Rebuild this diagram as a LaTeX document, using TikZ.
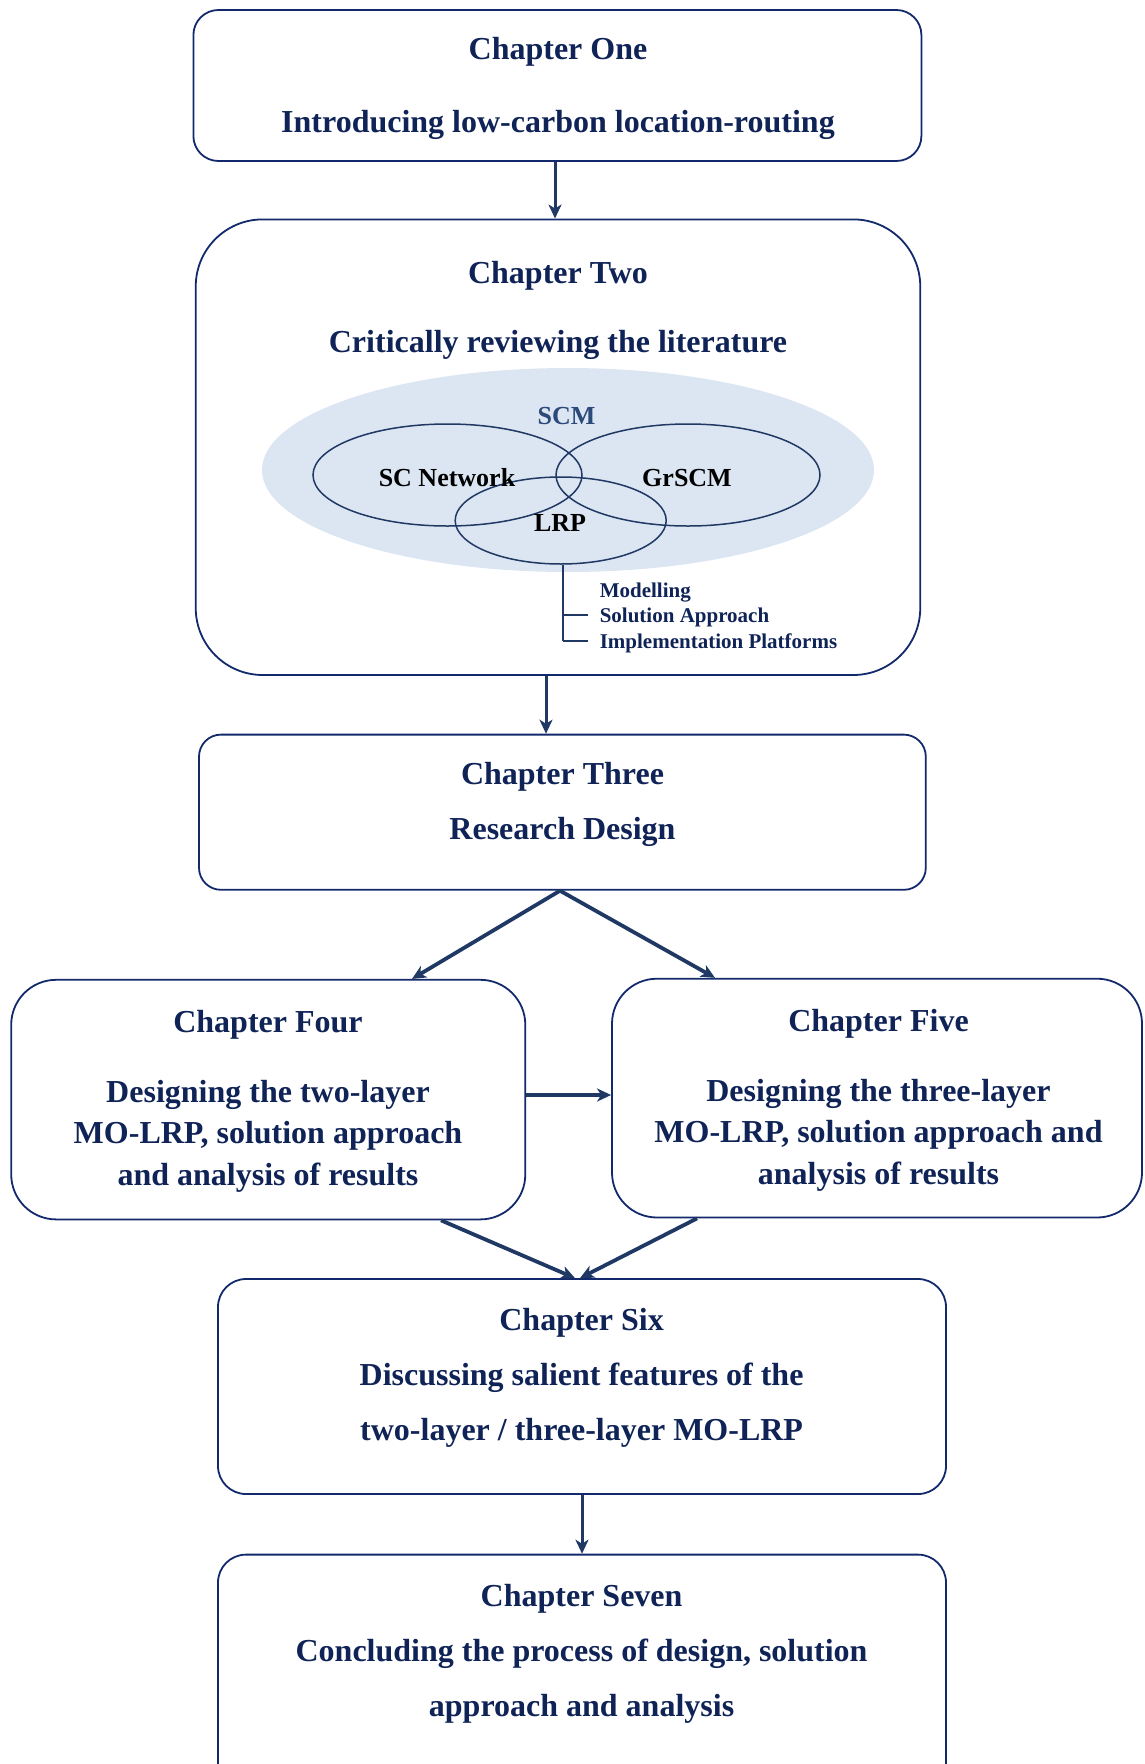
\documentclass[tikz,border=0pt]{standalone}
\usepackage{fontspec}
\setmainfont{Liberation Serif}
\usetikzlibrary{arrows.meta,shapes.geometric}
\definecolor{txt}{HTML}{0F2357}
\definecolor{bord}{HTML}{12296B}
\definecolor{arrc}{HTML}{1F3864}
\definecolor{ellfill}{HTML}{DCE6F2}
\definecolor{scm}{HTML}{2B4A7A}
\begin{document}
\begin{tikzpicture}[x=1pt,y=-1pt,
  box/.style={draw=bord,line width=1.8pt,inner sep=0pt},
  ttl/.style={text=txt,font=\fontsize{32}{40}\selectfont\bfseries,inner sep=0pt,anchor=base},
  small/.style={text=txt,font=\fontsize{21}{25}\selectfont\bfseries,inner sep=0pt,anchor=base west},
  venlab/.style={text=black,font=\fontsize{26}{30}\selectfont\bfseries,inner sep=0pt,anchor=base},
  ven/.style={ellipse,draw=arrc,line width=1.5pt,inner sep=0pt},
  arr/.style={draw=arrc,line width=3pt,-{Stealth[length=14pt,width=13pt,inset=4pt]}},
  brk/.style={draw=arrc,line width=2.5pt}]
\useasboundingbox (0,0) rectangle (1144,1764);
\clip (0,0) rectangle (1144,1764);

% boxes
\node[box,rounded corners=25pt,minimum width=728pt,minimum height=151pt] (b1) at (557.4,85.5) {};
\node[box,rounded corners=67pt,minimum width=724.5pt,minimum height=455.6pt] (b2) at (558,447.2) {};
\node[box,rounded corners=22pt,minimum width=726.8pt,minimum height=155.2pt] (b3) at (562.4,812.2) {};
\node[box,rounded corners=45pt,minimum width=514.1pt,minimum height=239.6pt] (b4) at (268.25,1099.6) {};
\node[box,rounded corners=45pt,minimum width=530pt,minimum height=238.8pt] (b5) at (877,1098.1) {};
\node[box,rounded corners=28pt,minimum width=728pt,minimum height=215pt] (b6) at (582,1386.5) {};
\node[box,rounded corners=28pt,minimum width=728pt,minimum height=245.4pt] (b7) at (582,1677.3) {};

% texts
\node[ttl] (t1a) at (558,59) {Chapter One};
\node[ttl] (t1b) at (558,132) {Introducing low-carbon location-routing};
\node[ttl] (t2a) at (558,283) {Chapter Two};
\node[ttl] (t2b) at (558,352) {Critically reviewing the literature};
\node[ttl] (t3a) at (562.5,784) {Chapter Three};
\node[ttl] (t3b) at (562.5,839) {Research Design};
\node[ttl] (t4a) at (268,1032) {Chapter Four};
\node[ttl] (t4b) at (268,1102) {Designing the two-layer};
\node[ttl] (t4c) at (268,1143.6) {MO-LRP, solution approach};
\node[ttl] (t4d) at (268,1185.2) {and analysis of results};
\node[ttl] (t5a) at (878.5,1031) {Chapter Five};
\node[ttl] (t5b) at (878.5,1101) {Designing the three-layer};
\node[ttl] (t5c) at (878.5,1142.6) {MO-LRP, solution approach and};
\node[ttl] (t5d) at (878.5,1184.3) {analysis of results};
\node[ttl] (t6a) at (581.6,1330.5) {Chapter Six};
\node[ttl] (t6b) at (581.6,1385.6) {Discussing salient features of the};
\node[ttl] (t6c) at (581.6,1440.7) {two-layer / three-layer MO-LRP};
\node[ttl] (t7a) at (581.6,1606) {Chapter Seven};
\node[ttl] (t7b) at (581.6,1661) {Concluding the process of design, solution};
\node[ttl] (t7c) at (581.6,1716) {approach and analysis};

% Venn diagram
\node[ellipse,fill=ellfill,inner sep=0pt,minimum width=612pt,minimum height=204pt] (scmell) at (568,470) {};
\node[ven,minimum width=269pt,minimum height=102pt] (scn) at (447.5,475) {};
\node[ven,minimum width=264pt,minimum height=102pt] (grs) at (688,475) {};
\node[ven,minimum width=211pt,minimum height=87pt] (lrp) at (560.7,520.5) {};
\node[venlab,text=scm] (lscm) at (566.5,424) {SCM};
\node[venlab] (lscn) at (447,486) {SC Network};
\node[venlab] (lgrs) at (687,486) {GrSCM};
\node[venlab] (llrp) at (560,531.5) {LRP};

% bracket
\coordinate (bx) at (563,0);
\coordinate (bend) at (563,641);
\coordinate (k1) at (588,615);
\coordinate (k2) at (588,641);
\draw[brk] (lrp.south -| bx) -- (bend);
\draw[brk] (k1 -| bx) -- (k1);
\draw[brk] (bend) -- (k2);
\node[small] (m1) at (599.6,597.6) {Modelling};
\node[small] (m2) at (599.6,622) {Solution Approach};
\node[small] (m3) at (599.6,648) {Implementation Platforms};

% connectors
\coordinate (a1) at (555,0);
\coordinate (a2) at (546,0);
\coordinate (apx) at (560,0);
\coordinate (t4) at (412,0);
\coordinate (t5) at (715,0);
\coordinate (h) at (0,1095);
\coordinate (s4) at (441,0);
\coordinate (e4) at (575,0);
\coordinate (s5) at (697,0);
\coordinate (e5) at (580,0);
\draw[arr] (b1.south -| a1) -- (b2.north -| a1);
\draw[arr] (b2.south -| a2) -- (b3.north -| a2);
\draw[arr,line width=3.8pt] (b3.south -| apx) -- (b4.north -| t4);
\draw[arr,line width=3.8pt] (b3.south -| apx) -- (b5.north -| t5);
\draw[arr,line width=3.8pt] (b4.east |- h) -- (b5.west |- h);
\draw[arr,line width=3.8pt] (b4.south -| s4) -- (b6.north -| e4);
\draw[arr,line width=3.8pt] (b5.south -| s5) -- (b6.north -| e5);
\draw[arr] (b6.south) -- (b7.north);
\end{tikzpicture}
\end{document}
